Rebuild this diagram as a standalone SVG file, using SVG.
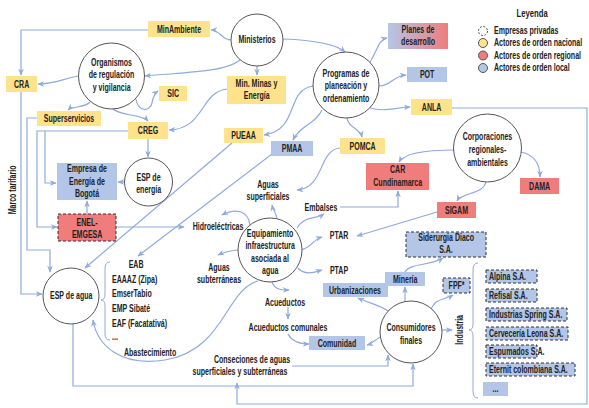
<svg xmlns="http://www.w3.org/2000/svg" width="589" height="408" viewBox="0 0 589 408">
<style>
.y{fill:#ffe38c}
.b{fill:#b4c6e7}
.r{fill:#f07c7c}
.d{stroke:#333;stroke-width:1;stroke-dasharray:3 2}
.c{fill:#fff;stroke:#555;stroke-width:1}
text{font-family:"Liberation Sans",Arial,sans-serif;font-weight:bold;font-size:10.5px;fill:#222;text-anchor:middle;transform-box:fill-box;transform-origin:center;transform:scaleX(.67)}
text.s{text-anchor:start;transform-origin:left center}
.e{fill:none;stroke:#8faadc;stroke-width:1.2;marker-end:url(#a)}
.k{fill:none;stroke:#8faadc;stroke-width:1}
</style>
<defs>
<marker id="a" viewBox="0 0 10 10" refX="9" refY="5" markerWidth="7" markerHeight="7" orient="auto" markerUnits="userSpaceOnUse"><path d="M0,1 L10,5 L0,9 L3,5 z" fill="#8faadc"/></marker>
<linearGradient id="g" x1="0" y1="0" x2="1" y2="0"><stop offset="0" stop-color="#b4c6e7"/><stop offset="1" stop-color="#f07c7c"/></linearGradient>
</defs>
<rect width="589" height="408" fill="#fff"/>

<g id="connectors">
<path class="e" d="M231,40 C222,40 220,30 211,30"/>
<path class="e" d="M257,66 L257,75"/>
<path class="e" d="M283,39 C310,40 335,43 345,52"/>
<path class="e" d="M240,60 C225,72 190,72 145,76"/>
<path class="e" d="M148,30 L21,30 L21,75"/>
<path class="e" d="M79,76 C65,78 55,84 38,84"/>
<path class="e" d="M90,102 C85,108 72,106 68,110"/>
<path class="e" d="M136,99 C138,112 150,112 152,103 C153,97 155,93 158,91"/>
<path class="e" d="M113,109 C120,116 142,114 148,121"/>
<path class="e" d="M227,89 C200,92 205,129 169,130"/>
<path class="e" d="M148,139 L148,157"/>
<path class="e" d="M125,182 L118,182"/>
<path class="e" d="M87,214 L87,201"/>
<path class="e" d="M128,131 L37,131 L37,227 L57,227"/>
<path class="e" d="M45,131 L45,183 L56,183"/>
<path class="e" d="M37,118 L27,118 L27,250 L50,250 L50,272"/>
<path class="e" d="M21,92 L21,294 L42,294"/>
<path class="e" d="M116,227 L184,227"/>
<path class="e" d="M232,143 L85,268"/>
<path class="e" d="M272,154 L138,256"/>
<path class="e" d="M370,62 C378,50 378,40 387,38"/>
<path class="e" d="M379,86 C392,86 392,76 406,75"/>
<path class="e" d="M370,108 C385,112 392,108 410,107"/>
<path class="e" d="M313,86 C285,90 300,130 264,135"/>
<path class="e" d="M322,110 C315,125 300,125 293,140"/>
<path class="e" d="M347,118 C348,128 360,128 362,137"/>
<path class="e" d="M340,148 C318,150 325,188 297,190"/>
<path class="e" d="M454,150 C430,150 405,152 399,162"/>
<path class="e" d="M521,152 C535,155 540,165 540,177"/>
<path class="e" d="M486,181 C484,195 462,192 457,201"/>
<path class="e" d="M437,212 L357,236"/>
<path class="e" d="M340,207 L398,207 L398,191"/>
<path class="e" d="M277,219 C276,212 273,210 272,205"/>
<path class="e" d="M250,225 C248,210 235,208 222,215"/>
<path class="e" d="M240,250 C232,250 225,252 218,255"/>
<path class="e" d="M297,228 C305,215 315,220 324,214"/>
<path class="e" d="M300,250 C312,248 312,240 322,237"/>
<path class="e" d="M298,268 C305,276 315,272 322,270"/>
<path class="e" d="M272,282 C275,290 282,290 289,290"/>
<path class="e" d="M288,307 L288,319"/>
<path class="e" d="M288,334 C292,342 300,344 309,344"/>
<path class="e" d="M383,336 C376,338 374,343 367,345"/>
<path class="e" d="M388,311 C380,305 366,302 358,298"/>
<path class="e" d="M405,302 L405,287"/>
<path class="e" d="M405,272 C410,263 430,266 443,258"/>
<path class="e" d="M431,309 C435,298 445,300 453,295"/>
<path class="e" d="M442,330 L452,330"/>
<path class="e" d="M292,366 L388,366 L388,355"/>
<path class="e" d="M73,324 L73,386 L413,386 L413,364"/>
<path class="e" d="M452,108 L587,108 L587,404 L237,404 L237,383"/>
<path class="e" d="M258,281 C225,290 225,350 165,360 C120,367 97,345 93,320"/>
<path class="k" d="M110,262 Q105,262 105,269 L105,294 Q105,300 101,300 Q105,300 105,306 L105,334 Q105,340 110,340"/>
<path class="k" d="M478,263 Q473,263 473,270 L473,324 Q473,330 469,330 Q473,330 473,336 L473,391 Q473,398 478,398"/>
</g>

<g id="legend">
<text x="532" y="17" style="font-size:11.5px">Leyenda</text>
<circle cx="483" cy="31" r="4.5" fill="#fff" stroke="#555" stroke-dasharray="2 1.5"/>
<text class="s" x="494" y="34.5">Empresas privadas</text>
<circle cx="483" cy="43" r="4.5" fill="#ffe38c" stroke="#555"/>
<text class="s" x="494" y="46.5">Actores de orden nacional</text>
<circle cx="483" cy="55.5" r="4.5" fill="#f07c7c" stroke="#555"/>
<text class="s" x="494" y="59">Actores de orden regional</text>
<circle cx="483" cy="68" r="4.5" fill="#b4c6e7" stroke="#555"/>
<text class="s" x="494" y="71.5">Actores de orden local</text>
</g>

<g id="ministerios"><circle class="c" cx="257" cy="40" r="26"/><text x="257" y="43.5">Ministerios</text></g>
<g id="minambiente"><rect class="y" x="148" y="21" width="62" height="16"/><text x="179" y="33">MinAmbiente</text></g>
<g id="minminas"><rect class="y" x="227" y="76" width="59" height="28"/><text x="256.5" y="87.5">Min. Minas y</text><text x="256.5" y="99.5">Energía</text></g>
<g id="programas"><circle class="c" cx="346" cy="85" r="33"/><text x="346" y="77">Programas de</text><text x="346" y="89.5">planeación y</text><text x="346" y="102">ordenamiento</text></g>
<g id="planes"><rect x="388" y="23" width="60" height="26" fill="url(#g)"/><text x="418" y="33.5">Planes de</text><text x="418" y="45.5">desarrollo</text></g>
<g id="pot"><rect class="b" x="407" y="67" width="40" height="15"/><text x="427" y="78.5">POT</text></g>
<g id="anla"><rect class="y" x="411" y="99" width="41" height="16"/><text x="431.5" y="111">ANLA</text></g>
<g id="organismos"><circle class="c" cx="111.5" cy="76" r="33"/><text x="111.5" y="66">Organismos</text><text x="111.5" y="78.5">de regulación</text><text x="111.5" y="91">y vigilancia</text></g>
<g id="cra"><rect class="y" x="6" y="76" width="31" height="16"/><text x="21.5" y="88">CRA</text></g>
<g id="sic"><rect class="y" x="159" y="86" width="28" height="15"/><text x="173" y="97.5">SIC</text></g>
<g id="superservicios"><rect class="y" x="37" y="111" width="64" height="15"/><text x="69" y="122.5">Superservicios</text></g>
<g id="creg"><rect class="y" x="128" y="122" width="40" height="17"/><text x="148" y="134.5">CREG</text></g>
<g id="eeb"><rect class="b" x="57" y="163" width="60" height="37"/><text x="87" y="172">Empresa de</text><text x="87" y="185">Energía de</text><text x="87" y="197.5">Bogotá</text></g>
<g id="espenergia"><circle class="c" cx="148.5" cy="182" r="24"/><text x="148.5" y="181">ESP de</text><text x="148.5" y="193">energía</text></g>
<g id="enel"><rect class="r d" x="58" y="214" width="58" height="27"/><text x="87" y="226">ENEL-</text><text x="87" y="238">EMGESA</text></g>
<g id="espagua"><circle class="c" cx="71" cy="296" r="28"/><text x="71" y="299">ESP de agua</text></g>
<g id="listaesp"><text x="136" y="268">EAB</text><text class="s" x="112" y="283">EAAAZ (Zipa)</text><text class="s" x="112" y="297">EmserTabio</text><text class="s" x="112" y="312">EMP Sibaté</text><text class="s" x="112" y="327">EAF (Facatativá)</text><text class="s" x="112" y="340">...</text><text x="150" y="356">Abastecimiento</text></g>
<g id="puea"><rect class="y" x="224" y="128" width="39" height="15"/><text x="243.5" y="139.5">PUEAA</text></g>
<g id="pmaa"><rect class="b" x="271" y="141" width="42" height="15"/><text x="292" y="152.5">PMAA</text></g>
<g id="pomca"><rect class="y" x="340" y="138" width="45" height="16"/><text x="362.5" y="150">POMCA</text></g>
<g id="aguassup"><text x="268" y="188">Aguas</text><text x="268" y="200.5">superficiales</text></g>
<g id="hidro"><text x="218" y="230">Hidroeléctricas</text></g>
<g id="equipamiento"><circle class="c" cx="270" cy="250" r="32"/><text x="270" y="237">Equipamiento</text><text x="270" y="249.5">infraestructura</text><text x="270" y="262">asociada al</text><text x="270" y="274.5">agua</text></g>
<g id="aguassub"><text x="219" y="271">Aguas</text><text x="219" y="283">subterráneas</text></g>
<g id="embalses"><text x="321" y="211">Embalses</text></g>
<g id="ptar"><text x="339" y="239">PTAR</text></g>
<g id="ptap"><text x="339" y="274">PTAP</text></g>
<g id="acueductos"><text x="285" y="306">Acueductos</text></g>
<g id="acucomunales"><text x="288" y="331.5">Acueductos comunales</text></g>
<g id="comunidad"><rect class="b" x="309" y="336" width="56" height="14"/><text x="337" y="347">Comunidad</text></g>
<g id="conseciones"><text x="252" y="363">Conseciones de aguas</text><text x="240" y="375">superficiales y subterráneas</text></g>
<g id="urbanizaciones"><rect class="b" x="323" y="283" width="65" height="14"/><text x="355" y="294">Urbanizaciones</text></g>
<g id="mineria"><rect class="b" x="385" y="272" width="40" height="14"/><text x="405" y="283">Minería</text></g>
<g id="siderurgia"><rect class="b d" x="406" y="232" width="80" height="25"/><text x="446" y="241">Siderurgia Diaco</text><text x="446" y="253">S.A.</text></g>
<g id="fpf"><rect class="b d" x="443" y="278" width="27" height="15"/><text x="456.5" y="289.5">FPF*</text></g>
<g id="consumidores"><circle class="c" cx="411" cy="332" r="31"/><text x="411" y="331">Consumidores</text><text x="411" y="344">finales</text></g>
<g id="corporaciones"><circle class="c" cx="487.5" cy="148" r="34"/><text x="487.5" y="140">Corporaciones</text><text x="487.5" y="153">regionales-</text><text x="487.5" y="166">ambientales</text></g>
<g id="car"><rect class="r" x="366" y="163" width="63" height="27"/><text x="397.5" y="173">CAR</text><text x="397.5" y="186.5">Cundinamarca</text></g>
<g id="dama"><rect class="r" x="520" y="178" width="39" height="16"/><text x="539.5" y="190">DAMA</text></g>
<g id="sigam"><rect class="r" x="437" y="202" width="39" height="16"/><text x="456.5" y="214">SIGAM</text></g>
<g id="industria"><g transform="translate(463,330) rotate(-90)"><text x="0" y="0">Industria</text></g></g>
<g id="alpina"><rect class="b d" x="486" y="270" width="51" height="13"/><text class="s" x="489" y="280.5">Alpina S.A.</text></g>
<g id="refisal"><rect class="b d" x="486" y="289" width="51" height="13"/><text class="s" x="489" y="299.5">Refisal S.A.</text></g>
<g id="spring"><rect class="b d" x="486" y="308" width="81" height="13"/><text class="s" x="489" y="318.5">Industrias Spring S.A.</text></g>
<g id="leona"><rect class="b d" x="486" y="327" width="82" height="13"/><text class="s" x="489" y="337.5">Cervecería Leona S.A.</text></g>
<g id="espumados"><rect class="b d" x="486" y="345" width="51" height="13"/><text class="s" x="489" y="355.5">Espumados S.A.</text></g>
<g id="eternit"><rect class="b d" x="486" y="363" width="89" height="13"/><text class="s" x="489" y="373.5">Eternit colombiana S.A.</text></g>
<g id="otras"><rect class="b" x="483" y="382" width="25" height="14"/><text x="495.5" y="392.5">...</text></g>
<g id="marco"><g transform="translate(16,190) rotate(-90)"><text x="0" y="0">Marco tarifario</text></g></g>
</svg>
